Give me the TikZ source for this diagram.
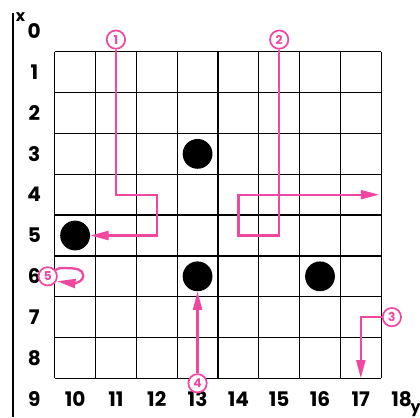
\documentclass[tikz,border=0pt]{standalone}
\usepackage{fontspec}
\setmainfont{Poppins}
\usetikzlibrary{arrows.meta}
\definecolor{pink}{RGB}{240,72,160}
\tikzset{
  route/.style={pink,line width=1.6pt},
  tip/.style={-{Triangle[length=4.5mm,width=2.2mm]}},
  tag/.style={circle,draw=pink,line width=1.2pt,text=pink,inner sep=0pt,
    minimum size=4.5mm,font=\bfseries\fontsize{8.5}{8.5}\selectfont,fill=white},
  ball/.style={circle,fill=black,inner sep=0pt,minimum size=7.3mm},
  num/.style={inner sep=0pt,font=\bfseries\fontsize{14}{14}\selectfont},
  axisname/.style={inner sep=0pt,font=\bfseries\fontsize{11}{11}\selectfont}
}
\begin{document}
\begin{tikzpicture}
        \useasboundingbox (8.16,-9.45) rectangle (18.45,0.77);
        \draw[line width=1.4pt](8.47,0.46)--(8.47,-9.45);
        \node[axisname] (xl) at (8.66,0.36) {x};
        \node[axisname] (yl) at (18.34,-9.27) {y};
        \foreach \i in {9.5,...,17.5} \draw[line width=0.9pt](\i,-0.5)--(\i,-8.5);
        \foreach \i in {0.5,...,8.5} \draw[line width=0.9pt](9.5,-\i)--(17.5,-\i);
        \foreach \r in {0,...,9} \node[num] at (9,-\r) {\r};
        \foreach \c in {10,...,18} \node[num] at (\c,-9) {\c};
        \node[ball] (b1) at (13,-3) {};
        \node[ball] (b2) at (10,-5) {};
        \node[ball] (b3) at (13,-6) {};
        \node[ball] (b4) at (16,-6) {};
        \node[tag] (t1) at (11,-0.2) {1};
        \node[tag] (t2) at (15,-0.2) {2};
        \node[tag] (t3) at (17.76,-7) {3};
        \node[tag] (t4) at (13,-8.62) {4};
        \node[tag] (t5) at (9.33,-6) {5};
        \coordinate (e2) at (17.45,-4);
        \coordinate (e3) at (17,-8.5);
        \coordinate (e5) at (9.56,-6.12);
        \draw[route,tip] (t1.south) |- (12,-4) |- (b2.east);
        \draw[route,tip] (t2.south) |- (14,-5) |- (e2);
        \draw[route,tip] (t3.west) -| (e3);
        \draw[route,tip] (t4.north) -- (b3.south);
        \draw[route,tip] (t5.40) to[out=30,in=180] (9.85,-5.8)
            to[out=0,in=90] (10.2,-5.98) to[out=-90,in=0] (9.95,-6.17) -- (e5);
    \end{tikzpicture}
\end{document}
